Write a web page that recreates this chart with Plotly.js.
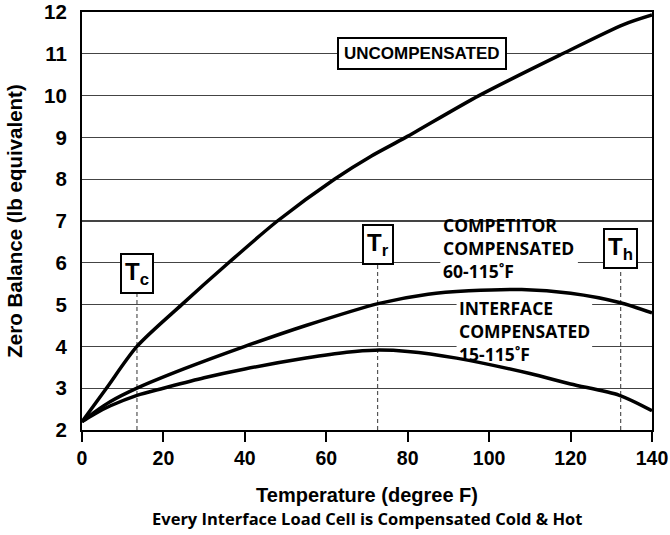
<!DOCTYPE html>
<html>
<head>
<meta charset="utf-8">
<script src="https://cdn.plot.ly/plotly-3.0.1.min.js"></script>
<style>html,body{margin:0;padding:0;background:#fff;}#chart{width:670px;height:535px;}</style>
</head>
<body>
<div id="chart"></div>
<script>
// Temperature (degree F) and zero balance (lb equivalent)
const uncompTemp = [0, 6, 13.5, 24.5, 36, 48, 62, 71, 79.5, 97.5, 118, 133, 140];
const uncompZero = [2.2, 3.0, 4.0, 5.0, 6.0, 7.0, 8.0, 8.55, 9.0, 10.0, 11.0, 11.7, 11.93];

const competitorTemp = [0, 3, 7, 13.5, 25, 40, 55, 73, 85, 95, 108, 120, 132, 140];
const competitorZero = [2.2, 2.42, 2.68, 3.0, 3.46, 4.0, 4.5, 5.03, 5.25, 5.33, 5.36, 5.27, 5.05, 4.8];

const interfaceTemp = [0, 3, 7, 13.5, 20, 30, 40, 55, 65, 72, 80, 92, 110, 120, 132, 140];
const interfaceZero = [2.2, 2.38, 2.58, 2.83, 3.0, 3.25, 3.46, 3.72, 3.86, 3.91, 3.88, 3.72, 3.35, 3.1, 2.83, 2.46];

// Reference temperatures (cold, room, hot)
const refNames = ['c', 'r', 'h'];
const refTemps = [13.5, 72.6, 132.3];
const refLabelY = [5.74, 6.43, 6.34];

const xTicks = [0, 20, 40, 60, 80, 100, 120, 140];
const yTicks = [2, 3, 4, 5, 6, 7, 8, 9, 10, 11, 12];

const curveLine = {color: '#000', width: 3.5, shape: 'spline', smoothing: 0.8};
const traces = [];
refTemps.forEach((t, i) => {
  traces.push({
    x: [t, t], y: [2, refLabelY[i]], mode: 'lines', hoverinfo: 'skip',
    line: {color: '#555', width: 1.2, dash: '4px,3px'}
  });
});
traces.push({x: uncompTemp, y: uncompZero, mode: 'lines', name: 'Uncompensated', line: curveLine});
traces.push({x: competitorTemp, y: competitorZero, mode: 'lines', name: 'Competitor', line: curveLine});
traces.push({x: interfaceTemp, y: interfaceZero, mode: 'lines', name: 'Interface', line: curveLine});

const labelFont = {family: '"Open Sans", sans-serif', size: 17.5, color: '#000'};
const annotations = [
  {x: 83.5, y: 11.0, xref: 'x', yref: 'y', text: '<b>UNCOMPENSATED</b>', showarrow: false,
   font: {family: '"Liberation Sans", Arial, sans-serif', size: 17, color: '#000'},
   bgcolor: '#fff', bordercolor: '#000', borderwidth: 2, borderpad: 5},
  {x: 88.2, y: 6.35, xref: 'x', yref: 'y', xanchor: 'left', align: 'left', showarrow: false,
   text: '<b>COMPETITOR<br>COMPENSATED<br>60-115˚F</b>', font: labelFont},
  {x: 92.2, y: 4.38, xref: 'x', yref: 'y', xanchor: 'left', align: 'left', showarrow: false,
   text: '<b>INTERFACE<br>COMPENSATED<br>15-115˚F</b>', font: labelFont},
  {x: 0.5, y: -0.245, xref: 'paper', yref: 'paper', showarrow: false,
   text: '<b>Every Interface Load Cell is Compensated Cold &amp; Hot</b>',
   font: {family: '"Open Sans", sans-serif', size: 16.5, color: '#000'}}
];
refTemps.forEach((t, i) => {
  annotations.push({
    x: t, y: refLabelY[i], xref: 'x', yref: 'y', showarrow: false,
    text: '<b>T<sub>' + refNames[i] + '</sub></b>',
    font: {family: '"Liberation Sans", Arial, sans-serif', size: 24, color: '#000'},
    bgcolor: '#fff', bordercolor: '#000', borderwidth: 2, borderpad: 3
  });
});

const layout = {
  width: 670, height: 535,
  margin: {l: 82, r: 18, t: 12, b: 105},
  paper_bgcolor: '#fff', plot_bgcolor: '#fff',
  showlegend: false,
  font: {family: '"Liberation Sans", Arial, sans-serif', color: '#000'},
  xaxis: {
    range: [0, 140], tickvals: xTicks, ticktext: xTicks.map(v => '<b>' + v + '</b>'),
    showgrid: false, zeroline: false,
    showline: true, linecolor: '#000', linewidth: 2, mirror: true,
    ticks: 'outside', ticklen: 10, tickwidth: 2, tickcolor: '#000',
    tickfont: {size: 19.5, color: '#000'},
    title: {text: '<b>Temperature (degree F)</b>', font: {size: 20, color: '#000'}, standoff: 20}
  },
  yaxis: {
    range: [2, 12], tickvals: yTicks, ticktext: yTicks.map(v => '<b>' + v + '</b>'),
    showgrid: true, gridcolor: '#444', gridwidth: 1.2, zeroline: false,
    showline: true, linecolor: '#000', linewidth: 2, mirror: true,
    ticks: '', ticklabelstandoff: 9,
    tickfont: {size: 20.5, color: '#000'},
    title: {text: '<b>Zero Balance (lb equivalent)</b>', font: {size: 20.5, color: '#000'}, standoff: 16}
  },
  shapes: [
    {type: 'rect', xref: 'x', yref: 'y', x0: 88.0, x1: 121.8, y0: 5.5, y1: 6.9,
     fillcolor: '#fff', line: {width: 0}, layer: 'between'},
    {type: 'rect', xref: 'x', yref: 'y', x0: 92.0, x1: 125.3, y0: 3.55, y1: 5.15,
     fillcolor: '#fff', line: {width: 0}, layer: 'between'}
  ],
  annotations: annotations
};

Plotly.newPlot('chart', traces, layout, {displayModeBar: false, staticPlot: true});
</script>
</body>
</html>
